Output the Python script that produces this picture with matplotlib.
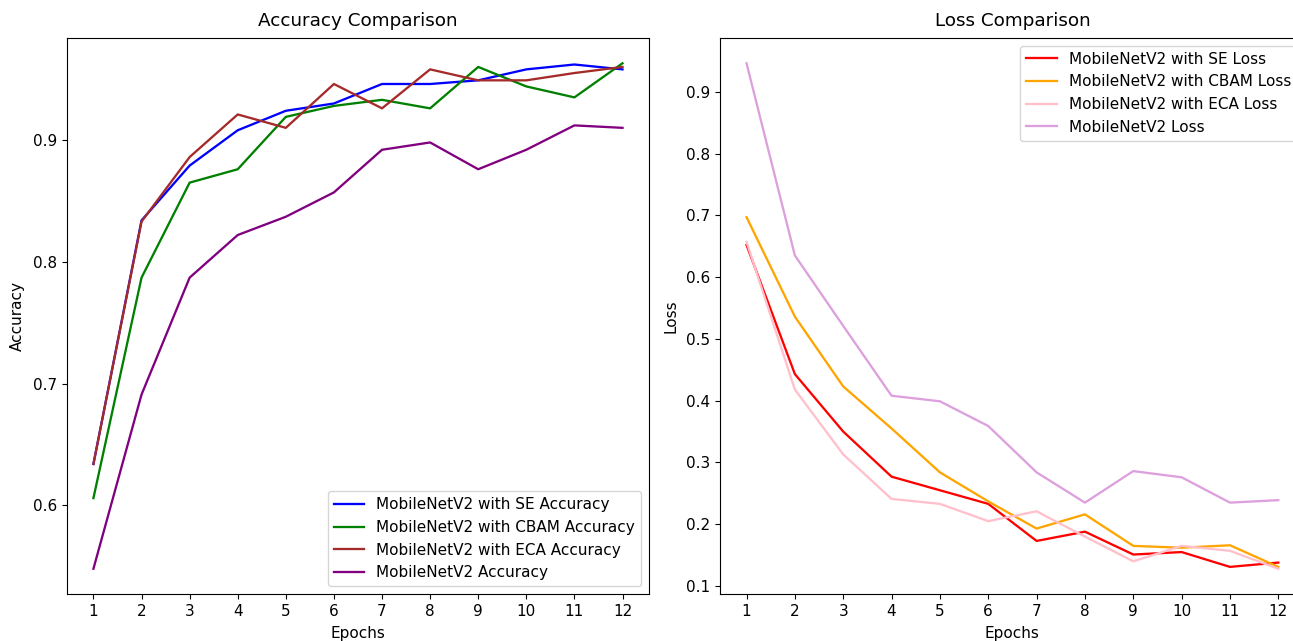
import matplotlib
matplotlib.use('Agg')
import matplotlib.pyplot as plt

epochs = list(range(1, 13))

# accuracy per epoch
acc_se = [0.634, 0.834, 0.879, 0.908, 0.924, 0.930, 0.946, 0.946, 0.949, 0.958, 0.962, 0.958]
acc_cbam = [0.606, 0.787, 0.865, 0.876, 0.919, 0.928, 0.933, 0.926, 0.960, 0.944, 0.935, 0.963]
acc_eca = [0.634, 0.833, 0.886, 0.921, 0.910, 0.946, 0.926, 0.958, 0.949, 0.949, 0.955, 0.960]
acc_base = [0.548, 0.691, 0.787, 0.822, 0.837, 0.857, 0.892, 0.898, 0.876, 0.892, 0.912, 0.910]

# loss per epoch
loss_se = [0.652, 0.443, 0.350, 0.277, 0.255, 0.233, 0.173, 0.188, 0.151, 0.155, 0.131, 0.138]
loss_cbam = [0.697, 0.536, 0.423, 0.355, 0.284, 0.237, 0.193, 0.216, 0.165, 0.162, 0.166, 0.131]
loss_eca = [0.657, 0.418, 0.313, 0.241, 0.233, 0.205, 0.221, 0.180, 0.140, 0.165, 0.157, 0.128]
loss_base = [0.946, 0.635, 0.521, 0.408, 0.399, 0.359, 0.284, 0.235, 0.286, 0.276, 0.235, 0.239]

plt.rcParams['font.size'] = 11
plt.rcParams['axes.titlesize'] = 13.2
plt.rcParams['axes.titlepad'] = 8.5
plt.rcParams['axes.labelpad'] = 5.5
plt.rcParams['lines.linewidth'] = 1.65

fig = plt.figure(figsize=(12.93, 6.41), dpi=100)

# the reference is cropped on the right and bottom, so the right axes runs past the edge
ax1 = fig.add_axes([0.0518, 0.0733, 0.4501, 0.8674])
ax2 = fig.add_axes([0.5568, 0.0733, 0.4524, 0.8674])

# Accuracy
ax1.plot(epochs, acc_se, color='blue', label='MobileNetV2 with SE Accuracy')
ax1.plot(epochs, acc_cbam, color='green', label='MobileNetV2 with CBAM Accuracy')
ax1.plot(epochs, acc_eca, color='brown', label='MobileNetV2 with ECA Accuracy')
ax1.plot(epochs, acc_base, color='purple', label='MobileNetV2 Accuracy')
ax1.set_title('Accuracy Comparison')
ax1.set_xlabel('Epochs')
ax1.set_ylabel('Accuracy')
ax1.set_xticks(epochs)
ax1.legend(loc='lower right')

# Loss
ax2.plot(epochs, loss_se, color='red', label='MobileNetV2 with SE Loss')
ax2.plot(epochs, loss_cbam, color='orange', label='MobileNetV2 with CBAM Loss')
ax2.plot(epochs, loss_eca, color='pink', label='MobileNetV2 with ECA Loss')
ax2.plot(epochs, loss_base, color='plum', label='MobileNetV2 Loss')
ax2.set_title('Loss Comparison')
ax2.set_xlabel('Epochs')
ax2.set_ylabel('Loss')
ax2.set_xticks(epochs)
ax2.legend(loc='upper right')

plt.savefig('out.png', dpi=100)
